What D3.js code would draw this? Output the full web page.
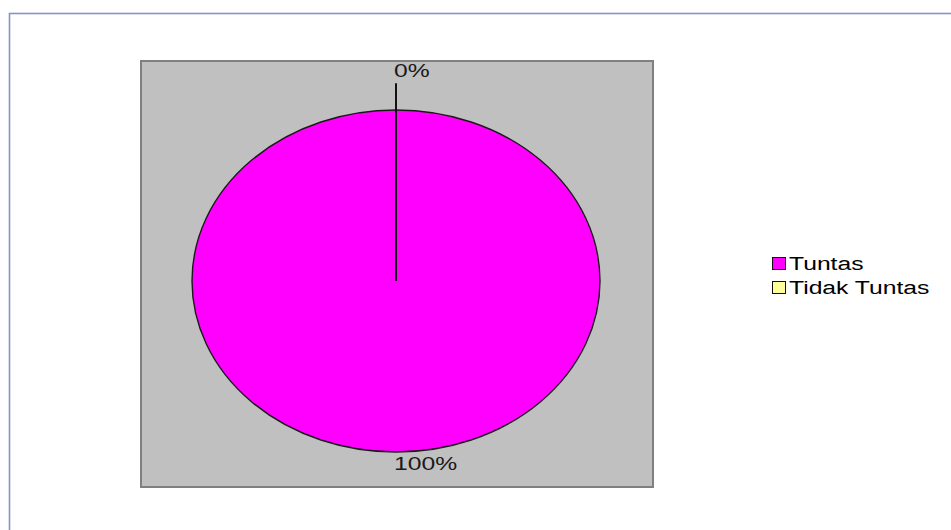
<!DOCTYPE html>
<html><head><meta charset="utf-8">
<script src="https://cdn.jsdelivr.net/npm/d3@7"></script>
<style>html,body{margin:0;padding:0;background:#fff;}svg{display:block;}</style>
</head><body>
<svg id="c" width="951" height="530"></svg>
<script>
const categories = ["Tuntas", "Tidak Tuntas"];
const values = [100, 0];
const pctLabels = ["100%", "0%"];
const colors = ["#ff00ff", "#ffff99"];

const svg = d3.select("#c");
const FONT = "'Liberation Sans', Arial, sans-serif";
const SX = 1.3;
const FS = 19;

// outer chart border
svg.append("rect").attr("x", 9.5).attr("y", 13.5).attr("width", 960).attr("height", 540)
  .attr("fill", "#fff").attr("stroke", "#8593c6").attr("stroke-width", 1.6);

// plot area
svg.append("rect").attr("x", 141).attr("y", 61).attr("width", 512).attr("height", 426)
  .attr("fill", "#c0c0c0").attr("stroke", "#808080").attr("stroke-width", 2);

const cx = 396, cy = 281, R = 204, ky = 171 / 204;
const pie = d3.pie().sort(null).value(d => d)(values);
const arc = d3.arc().innerRadius(0).outerRadius(R);

const g = svg.append("g").attr("transform", `translate(${cx},${cy}) scale(1,${ky})`);
g.selectAll("path.slice").data(pie).join("path")
  .attr("class", "slice")
  .attr("d", arc)
  .attr("fill", (d, i) => colors[i])
  .attr("stroke", "#1a1a1a").attr("stroke-width", 1.4)
  .attr("vector-effect", "non-scaling-stroke");

// leader line for zero-value slice
pie.forEach((d, i) => {
  const mid = (d.startAngle + d.endAngle) / 2;
  if (d.value === 0) {
    const lr = 236;
    svg.append("line")
      .attr("x1", cx).attr("y1", cy)
      .attr("x2", cx + lr * Math.sin(mid)).attr("y2", cy - lr * Math.cos(mid) * ky)
      .attr("stroke", "#111").attr("stroke-width", 2);
  }
});

// percentage labels
pie.forEach((d, i) => {
  const mid = ((d.startAngle + d.endAngle) / 2) % (2 * Math.PI);
  const lr = d.value === 0 ? 236 : R;
  const px = cx + lr * Math.sin(mid) - 2;
  const py = cy - lr * Math.cos(mid) * ky;
  const by = Math.cos(mid) >= 0 ? py - 6 : py + 18;
  svg.append("text")
    .attr("transform", `translate(${px},${by}) scale(${SX},1)`)
    .attr("font-family", FONT).attr("font-size", FS).attr("fill", "#1a1a1a")
    .text(pctLabels[i]);
});

// legend
const leg = svg.append("g");
categories.forEach((c, i) => {
  const y = 257 + i * 24;
  leg.append("rect").attr("x", 772.5).attr("y", y + 0.5).attr("width", 13).attr("height", 12)
    .attr("fill", colors[i]).attr("stroke", "#111").attr("stroke-width", 1);
  leg.append("text")
    .attr("transform", `translate(789,${y + 12.5}) scale(${SX},1)`)
    .attr("font-family", FONT).attr("font-size", FS).attr("fill", "#000")
    .text(c);
});
</script>
</body></html>
